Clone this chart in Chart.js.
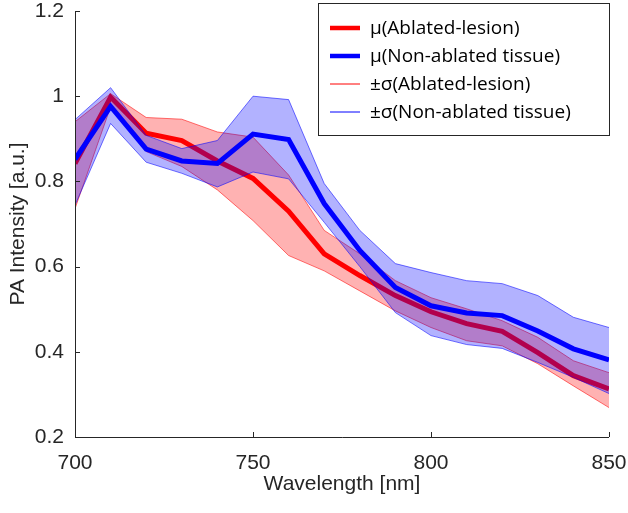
<!DOCTYPE html>
<html>
<head>
<meta charset="utf-8">
<script src="https://cdn.jsdelivr.net/npm/chart.js@4/dist/chart.umd.min.js"></script>
<style>
html,body{margin:0;padding:0;background:#fff;}
#wrap{width:628px;height:513px;position:relative;}
</style>
</head>
<body>
<div id="wrap"><canvas id="c" width="628" height="513"></canvas></div>
<script>
const wavelengths = [700, 710, 720, 730, 740, 750, 760, 770, 780, 790, 800, 810, 820, 830, 840, 850];
const ablatedMean  = [0.842, 0.998, 0.913, 0.896, 0.848, 0.807, 0.730, 0.630, 0.579, 0.532, 0.494, 0.466, 0.448, 0.398, 0.344, 0.313];
const ablatedUpper = [0.940, 1.006, 0.950, 0.946, 0.916, 0.904, 0.815, 0.685, 0.630, 0.567, 0.527, 0.501, 0.473, 0.434, 0.379, 0.351];
const ablatedLower = [0.736, 0.975, 0.870, 0.835, 0.780, 0.708, 0.626, 0.590, 0.543, 0.496, 0.457, 0.426, 0.414, 0.372, 0.320, 0.269];
const tissueMean   = [0.852, 0.976, 0.876, 0.848, 0.842, 0.911, 0.898, 0.748, 0.638, 0.551, 0.508, 0.491, 0.485, 0.449, 0.407, 0.381];
const tissueUpper  = [0.945, 1.020, 0.908, 0.877, 0.896, 1.000, 0.992, 0.795, 0.685, 0.607, 0.586, 0.567, 0.560, 0.532, 0.481, 0.457];
const tissueLower  = [0.744, 0.936, 0.845, 0.819, 0.787, 0.822, 0.806, 0.704, 0.600, 0.492, 0.438, 0.417, 0.408, 0.375, 0.340, 0.302];
const xTicks = [700, 750, 800, 850];
const yTicks = [0.2, 0.4, 0.6, 0.8, 1.0, 1.2];
const legendLabels = ['μ(Ablated-lesion)', 'μ(Non-ablated tissue)', '±σ(Ablated-lesion)', '±σ(Non-ablated tissue)'];

const pts = arr => arr.map((v, i) => ({x: wavelengths[i], y: v}));
const AX = '#262626';
const TICKFONT = {family: "'Liberation Sans', Arial, sans-serif", size: 21};

const inwardTicks = {
  id: 'inwardTicks',
  afterDatasetsDraw(chart) {
    const ctx = chart.ctx, ca = chart.chartArea;
    const xs = chart.scales.x, ys = chart.scales.y;
    ctx.save();
    ctx.strokeStyle = AX; ctx.lineWidth = 1;
    ctx.beginPath();
    ctx.moveTo(ca.left + 0.5, ca.top); ctx.lineTo(ca.left + 0.5, ca.bottom + 0.5); ctx.lineTo(ca.right, ca.bottom + 0.5);
    xTicks.forEach(t => { const px = Math.round(xs.getPixelForValue(t)) + 0.5; ctx.moveTo(px, ca.bottom); ctx.lineTo(px, ca.bottom - 5); });
    yTicks.forEach(t => { const py = Math.round(ys.getPixelForValue(t)) + 0.5; ctx.moveTo(ca.left, py); ctx.lineTo(ca.left + 5, py); });
    ctx.stroke();
    ctx.restore();
  }
};

const boxLegend = {
  id: 'boxLegend',
  afterDraw(chart) {
    const ctx = chart.ctx;
    const x0 = 318.5, y0 = 3.5, x1 = 609.5, y1 = 135.5;
    ctx.save();
    ctx.fillStyle = '#fff';
    ctx.fillRect(x0, y0, x1 - x0, y1 - y0);
    ctx.strokeStyle = '#262626'; ctx.lineWidth = 1;
    ctx.strokeRect(x0, y0, x1 - x0, y1 - y0);
    const items = [
      {c: '#ff0000', w: 4.5}, {c: '#0000ff', w: 4.5}, {c: '#ff0000', w: 1}, {c: '#0000ff', w: 1}
    ];
    const rows = [28, 56, 84, 112];
    ctx.font = "19px 'Open Sans', sans-serif";
    ctx.textBaseline = 'middle';
    items.forEach((it, i) => {
      ctx.strokeStyle = it.c; ctx.lineWidth = it.w;
      ctx.beginPath(); ctx.moveTo(330, rows[i]); ctx.lineTo(360, rows[i]); ctx.stroke();
      ctx.fillStyle = '#000';
      ctx.fillText(legendLabels[i], 370, rows[i] + 1);
    });
    ctx.restore();
  }
};

function zeroPad(s) { s.paddingLeft = 0; s.paddingRight = 0; s.paddingTop = 0; s.paddingBottom = 0; }

new Chart(document.getElementById('c'), {
  type: 'line',
  data: {
    datasets: [
      {label: legendLabels[2], data: pts(ablatedUpper), borderColor: 'rgba(255,0,0,0.55)', borderWidth: 1, backgroundColor: 'rgba(255,0,0,0.3)', fill: 1, order: 3, pointRadius: 0, tension: 0},
      {label: legendLabels[2] + ' low', data: pts(ablatedLower), borderColor: 'rgba(255,0,0,0.55)', borderWidth: 1, fill: false, order: 3, pointRadius: 0, tension: 0},
      {label: legendLabels[0], data: pts(ablatedMean), borderColor: '#ff0000', borderWidth: 5, fill: false, order: 2, pointRadius: 0, tension: 0},
      {label: legendLabels[3], data: pts(tissueUpper), borderColor: 'rgba(0,0,255,0.55)', borderWidth: 1, backgroundColor: 'rgba(0,0,255,0.3)', fill: 4, order: 1, pointRadius: 0, tension: 0},
      {label: legendLabels[3] + ' low', data: pts(tissueLower), borderColor: 'rgba(0,0,255,0.55)', borderWidth: 1, fill: false, order: 1, pointRadius: 0, tension: 0},
      {label: legendLabels[1], data: pts(tissueMean), borderColor: '#0000ff', borderWidth: 5, fill: false, order: 0, pointRadius: 0, tension: 0}
    ]
  },
  options: {
    responsive: false,
    animation: false,
    layout: {padding: {left: 0, right: 19, top: 11, bottom: 0}},
    plugins: {legend: {display: false}, tooltip: {enabled: false}},
    scales: {
      x: {
        type: 'linear', min: 700, max: 850,
        afterBuildTicks: s => { s.ticks = xTicks.map(v => ({value: v})); },
        afterFit: s => { s.height = 76; zeroPad(s); },
        grid: {display: false, drawTicks: false},
        border: {display: false},
        ticks: {color: AX, font: TICKFONT, padding: 14, maxRotation: 0},
        title: {display: true, text: 'Wavelength [nm]', color: AX, font: TICKFONT, padding: {top: 2, bottom: 16}}
      },
      y: {
        type: 'linear', min: 0.2, max: 1.2,
        afterBuildTicks: s => { s.ticks = yTicks.map(v => ({value: v})); },
        afterFit: s => { s.width = 75; zeroPad(s); },
        grid: {display: false, drawTicks: false},
        border: {display: false},
        ticks: {color: AX, font: TICKFONT, padding: 11, callback: v => (Math.round(v * 10) / 10).toString()},
        title: {display: true, text: 'PA Intensity [a.u.]', color: AX, font: TICKFONT, padding: {top: 6, bottom: 0}}
      }
    }
  },
  plugins: [inwardTicks, boxLegend]
});
</script>
</body>
</html>
